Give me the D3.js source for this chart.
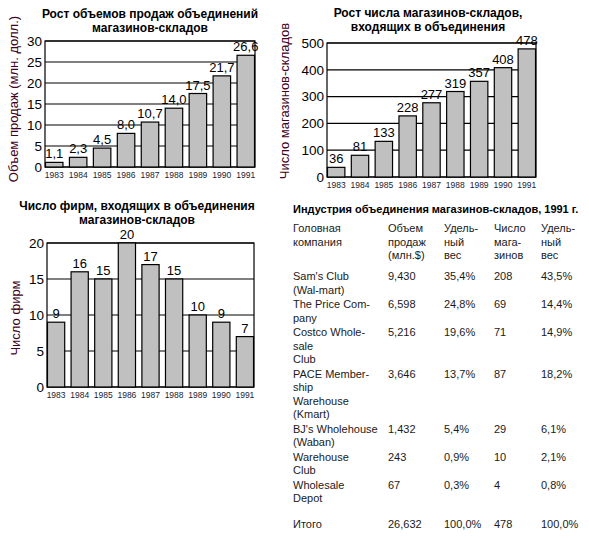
<!DOCTYPE html>
<html>
<head>
<meta charset="utf-8">
<script src="https://cdn.jsdelivr.net/npm/d3@7"></script>
<style>
  body { margin: 0; background: #fff; }
  svg { display: block; font-family: Arial, "Liberation Sans", sans-serif; }
</style>
</head>
<body>
<svg id="chart" width="589" height="538"></svg>
<script>
// --- data ---
var years = ['1983', '1984', '1985', '1986', '1987', '1988', '1989', '1990', '1991'];
var salesVolume = [1.1, 2.3, 4.5, 8.0, 10.7, 14.0, 17.5, 21.7, 26.6];
var storeCount = [36, 81, 133, 228, 277, 319, 357, 408, 478];
var firmCount = [9, 16, 15, 20, 17, 15, 10, 9, 7];

var tableHeaders = [
  ['Головная', 'компания'],
  ['Объем', 'продаж', '(млн.$)'],
  ['Удель-', 'ный', 'вес'],
  ['Число', 'мага-', 'зинов'],
  ['Удель-', 'ный', 'вес']
];
var companies = [
  ["Sam's Club", '(Wal-mart)'],
  ['The Price Com-', 'pany'],
  ['Costco Whole-', 'sale', 'Club'],
  ['PACE Member-', 'ship', 'Warehouse', '(Kmart)'],
  ["BJ's Wholehouse", '(Waban)'],
  ['Warehouse', 'Club'],
  ['Wholesale', 'Depot'],
  ['Итого']
];
var companySales = ['9,430', '6,598', '5,216', '3,646', '1,432', '243', '67', '26,632'];
var salesShare = ['35,4%', '24,8%', '19,6%', '13,7%', '5,4%', '0,9%', '0,3%', '100,0%'];
var companyStores = ['208', '69', '71', '87', '29', '10', '4', '478'];
var storesShare = ['43,5%', '14,4%', '14,9%', '18,2%', '6,1%', '2,1%', '0,8%', '100,0%'];

var svg = d3.select('#chart');
var fmtComma = function(v){ return String(v).replace('.', ','); };

function barChart(o){
  var g = svg.append('g');
  var x = d3.scaleBand().domain(years).range([o.x0, o.x1]).paddingInner(0.27).paddingOuter(0.02);
  var y = d3.scaleLinear().domain([0, o.max]).range([o.yb, o.yt]);
  var ticks = d3.range(0, o.max + o.step / 2, o.step);

  // titles
  g.selectAll('text.title')
    .data(o.title)
    .enter().append('text')
      .attr('x', o.tx)
      .attr('y', function(d, i){ return o.ty + i * 14; })
      .attr('text-anchor', 'middle')
      .attr('font-size', 12)
      .attr('font-weight', 'bold')
      .text(function(d){ return d; });

  // grid lines
  g.selectAll('line.grid')
    .data(ticks)
    .enter().append('line')
      .attr('x1', o.x0).attr('x2', o.x1)
      .attr('y1', function(d){ return y(d); })
      .attr('y2', function(d){ return y(d); })
      .attr('stroke', '#000')
      .attr('stroke-width', 1.2);

  // frame
  g.append('rect')
    .attr('x', o.x0).attr('y', o.yt)
    .attr('width', o.x1 - o.x0).attr('height', o.yb - o.yt)
    .attr('fill', 'none').attr('stroke', '#000').attr('stroke-width', 1.2);

  // value labels
  g.selectAll('text.val')
    .data(o.values)
    .enter().append('text')
      .attr('x', function(d, i){ return x(years[i]) + x.bandwidth() / 2; })
      .attr('y', function(d){ return y(d) - 4; })
      .attr('text-anchor', 'middle')
      .attr('font-size', 13)
      .text(function(d){ return o.fmt(d); });

  // bars
  g.selectAll('rect.bar')
    .data(o.values)
    .enter().append('rect')
      .attr('x', function(d, i){ return x(years[i]); })
      .attr('y', function(d){ return y(d); })
      .attr('width', x.bandwidth())
      .attr('height', function(d){ return o.yb - y(d); })
      .attr('fill', '#c0c0c0')
      .attr('stroke', '#000')
      .attr('stroke-width', 1.2);

  // y tick labels
  g.selectAll('text.tick')
    .data(ticks)
    .enter().append('text')
      .attr('x', o.x0 - 3)
      .attr('y', function(d){ return y(d); })
      .attr('dy', '0.36em')
      .attr('text-anchor', 'end')
      .attr('font-size', 13.5)
      .text(function(d){ return d; });

  // year labels
  g.selectAll('text.year')
    .data(years)
    .enter().append('text')
      .attr('x', function(d){ return x(d) + x.bandwidth() / 2; })
      .attr('y', o.yb + 10.5)
      .attr('text-anchor', 'middle')
      .attr('font-size', 8.5)
      .attr('fill', '#1a1a33')
      .text(function(d){ return d; });

  // y axis title
  g.append('text')
    .attr('transform', 'translate(' + o.ax + ',' + o.ay + ') rotate(-90)')
    .attr('text-anchor', 'middle')
    .attr('font-size', 13)
    .attr('fill', '#400020')
    .text(o.axisTitle);
}

barChart({
  values: salesVolume, max: 30, step: 5, fmt: function(v){ return fmtComma(v.toFixed(1)); },
  x0: 45, x1: 255, yt: 41, yb: 167,
  title: ['Рост объемов продаж объединений', 'магазинов-складов'], tx: 150, ty: 18,
  axisTitle: 'Объем продаж (млн. долл.)', ax: 18, ay: 99
});

barChart({
  values: storeCount, max: 500, step: 100, fmt: function(v){ return v; },
  x0: 327, x1: 536, yt: 43, yb: 177,
  title: ['Рост числа магазинов-складов,', 'входящих в объединения'], tx: 428, ty: 17,
  axisTitle: 'Число магазинов-складов', ax: 289, ay: 101
});

barChart({
  values: firmCount, max: 20, step: 5, fmt: function(v){ return v; },
  x0: 47, x1: 254, yt: 243, yb: 387,
  title: ['Число фирм, входящих в объединения', 'магазинов-складов'], tx: 137, ty: 210,
  axisTitle: 'Число фирм', ax: 20, ay: 318
});

// --- table ---
var tg = svg.append('g').attr('font-size', 11).attr('fill', '#1a1a1a');
var colX = [293, 388, 444, 494, 541];
var lh = 13.6;

tg.append('text')
  .attr('x', 293).attr('y', 213)
  .attr('font-weight', 'bold')
  .attr('fill', '#000')
  .text('Индустрия объединения магазинов-складов, 1991 г.');

tableHeaders.forEach(function(lines, c){
  tg.selectAll(null)
    .data(lines)
    .enter().append('text')
      .attr('x', colX[c])
      .attr('y', function(d, i){ return 232 + i * lh; })
      .text(function(d){ return d; });
});

var rowY = [];
var cy = 280;
companies.forEach(function(lines, r){
  if (r === companies.length - 1) cy += 11;
  rowY.push(cy);
  cy += lines.length * lh + 0.8;
});

companies.forEach(function(lines, r){
  tg.selectAll(null)
    .data(lines)
    .enter().append('text')
      .attr('x', colX[0])
      .attr('y', function(d, i){ return rowY[r] + i * lh; })
      .text(function(d){ return d; });
  [companySales, salesShare, companyStores, storesShare].forEach(function(col, c){
    tg.append('text')
      .attr('x', colX[c + 1])
      .attr('y', rowY[r])
      .text(col[r]);
  });
});
</script>
</body>
</html>
